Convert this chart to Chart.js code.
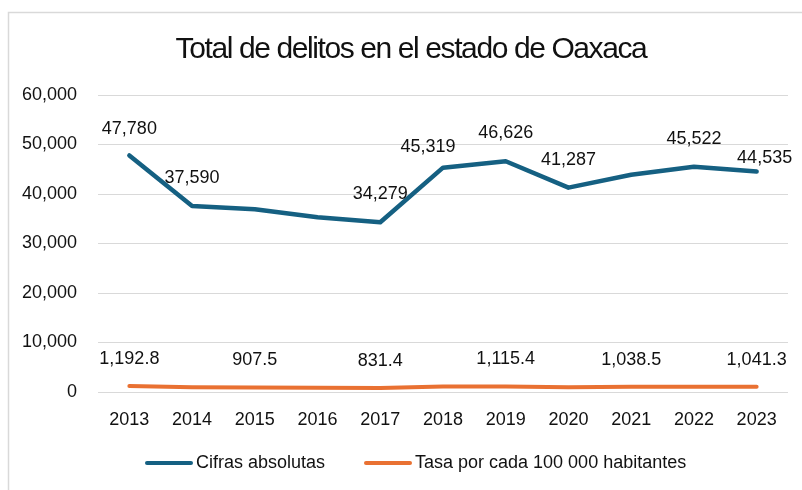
<!DOCTYPE html>
<html>
<head>
<meta charset="utf-8">
<script src="https://cdn.jsdelivr.net/npm/chart.js@4"></script>
<style>
  html, body { margin: 0; padding: 0; background: #fff; }
  #wrap { width: 802px; height: 490px; }
</style>
</head>
<body>
<div id="wrap"><canvas id="chart"></canvas></div>
<script>
// data
const years = ['2013', '2014', '2015', '2016', '2017', '2018', '2019', '2020', '2021', '2022', '2023'];
const absolutas = [47780, 37590, 36900, 35300, 34279, 45319, 46626, 41287, 43900, 45522, 44535];
const tasa = [1192.8, 940, 907.5, 870, 831.4, 1090, 1115.4, 980, 1038.5, 1065, 1041.3];
const seriesNames = ['Cifras absolutas', 'Tasa por cada 100 000 habitantes'];
const title = 'Total de delitos en el estado de Oaxaca';

// which points carry a value label
const absLabelIdx = [0, 1, 4, 5, 6, 7, 9, 10];
const tasaLabelIdx = [0, 2, 4, 6, 8, 10];

// label offsets from the point (layout only)
const absLabelOffset = { 0: [0, -26], 1: [0, -28], 4: [0, -28], 5: [-15, -21], 6: [0, -28], 7: [0, -28], 9: [0, -28], 10: [8, -14] };
const tasaLabelOffset = [0, -27];

const BLUE = '#156082';
const ORANGE = '#E97132';
const TEXT = '#111';
const GRID = '#d9d9d9';
const FONT = '"Liberation Sans", Arial, Helvetica, sans-serif';

const fmt = (v, d) => v.toLocaleString('en-US', { minimumFractionDigits: d, maximumFractionDigits: d });

const decorPlugin = {
  id: 'decor',
  beforeDraw(chart) {
    const ctx = chart.ctx;
    ctx.save();
    ctx.fillStyle = '#fff';
    ctx.fillRect(0, 0, chart.width, chart.height);
    ctx.strokeStyle = GRID;
    ctx.lineWidth = 1.5;
    ctx.strokeRect(8.5, 12.5, chart.width + 20, chart.height + 20);
    ctx.restore();
  },
  afterDraw(chart) {
    const ctx = chart.ctx;
    ctx.save();
    // title
    ctx.fillStyle = TEXT;
    ctx.font = '30px ' + FONT;
    ctx.textAlign = 'center';
    ctx.textBaseline = 'alphabetic';
    ctx.letterSpacing = '-1.4px';
    ctx.fillText(title, 411, 58);
    ctx.letterSpacing = '0px';

    // value labels
    ctx.font = '18px ' + FONT;
    ctx.textBaseline = 'middle';
    const m0 = chart.getDatasetMeta(0);
    absLabelIdx.forEach(i => {
      const p = m0.data[i];
      const o = absLabelOffset[i];
      ctx.fillText(fmt(absolutas[i], 0), p.x + o[0], p.y + o[1]);
    });
    const m1 = chart.getDatasetMeta(1);
    tasaLabelIdx.forEach(i => {
      const p = m1.data[i];
      ctx.fillText(fmt(tasa[i], 1), p.x + tasaLabelOffset[0], p.y + tasaLabelOffset[1]);
    });

    // legend
    const items = [
      { color: BLUE, text: seriesNames[0], x: 145 },
      { color: ORANGE, text: seriesNames[1], x: 364 }
    ];
    const ly = 463;
    ctx.textAlign = 'left';
    items.forEach(it => {
      ctx.strokeStyle = it.color;
      ctx.lineWidth = 4;
      ctx.lineCap = 'round';
      ctx.beginPath();
      ctx.moveTo(it.x + 2, ly);
      ctx.lineTo(it.x + 46, ly);
      ctx.stroke();
      ctx.fillStyle = TEXT;
      ctx.fillText(it.text, it.x + 51, ly);
    });
    ctx.restore();
  }
};

new Chart(document.getElementById('chart'), {
  type: 'line',
  data: {
    labels: years,
    datasets: [
      {
        label: seriesNames[0],
        data: absolutas,
        borderColor: BLUE,
        backgroundColor: BLUE,
        borderWidth: 4.5,
        pointRadius: 0,
        borderCapStyle: 'round',
        borderJoinStyle: 'round',
        tension: 0
      },
      {
        label: seriesNames[1],
        data: tasa,
        borderColor: ORANGE,
        backgroundColor: ORANGE,
        borderWidth: 4,
        pointRadius: 0,
        borderCapStyle: 'round',
        borderJoinStyle: 'round',
        tension: 0
      }
    ]
  },
  options: {
    responsive: true,
    maintainAspectRatio: false,
    animation: false,
    devicePixelRatio: 1,
    layout: { padding: { top: 95, right: 14, bottom: 46, left: 0 } },
    plugins: {
      legend: { display: false },
      title: { display: false },
      tooltip: { enabled: false }
    },
    scales: {
      x: {
        offset: true,
        grid: { display: false, drawTicks: false, offset: true },
        border: { display: false },
        ticks: { color: TEXT, font: { family: FONT, size: 18 }, padding: 17, maxRotation: 0 },
        afterFit(scale) { scale.height = 52; }
      },
      y: {
        min: 0,
        max: 60000,
        grid: { color: GRID, lineWidth: 1, drawTicks: false },
        border: { display: false },
        ticks: {
          stepSize: 10000,
          color: TEXT,
          font: { family: FONT, size: 18 },
          padding: 21,
          callback: v => fmt(v, 0)
        },
        afterFit(scale) { scale.width = 98; }
      }
    }
  },
  plugins: [decorPlugin]
});
</script>
</body>
</html>
